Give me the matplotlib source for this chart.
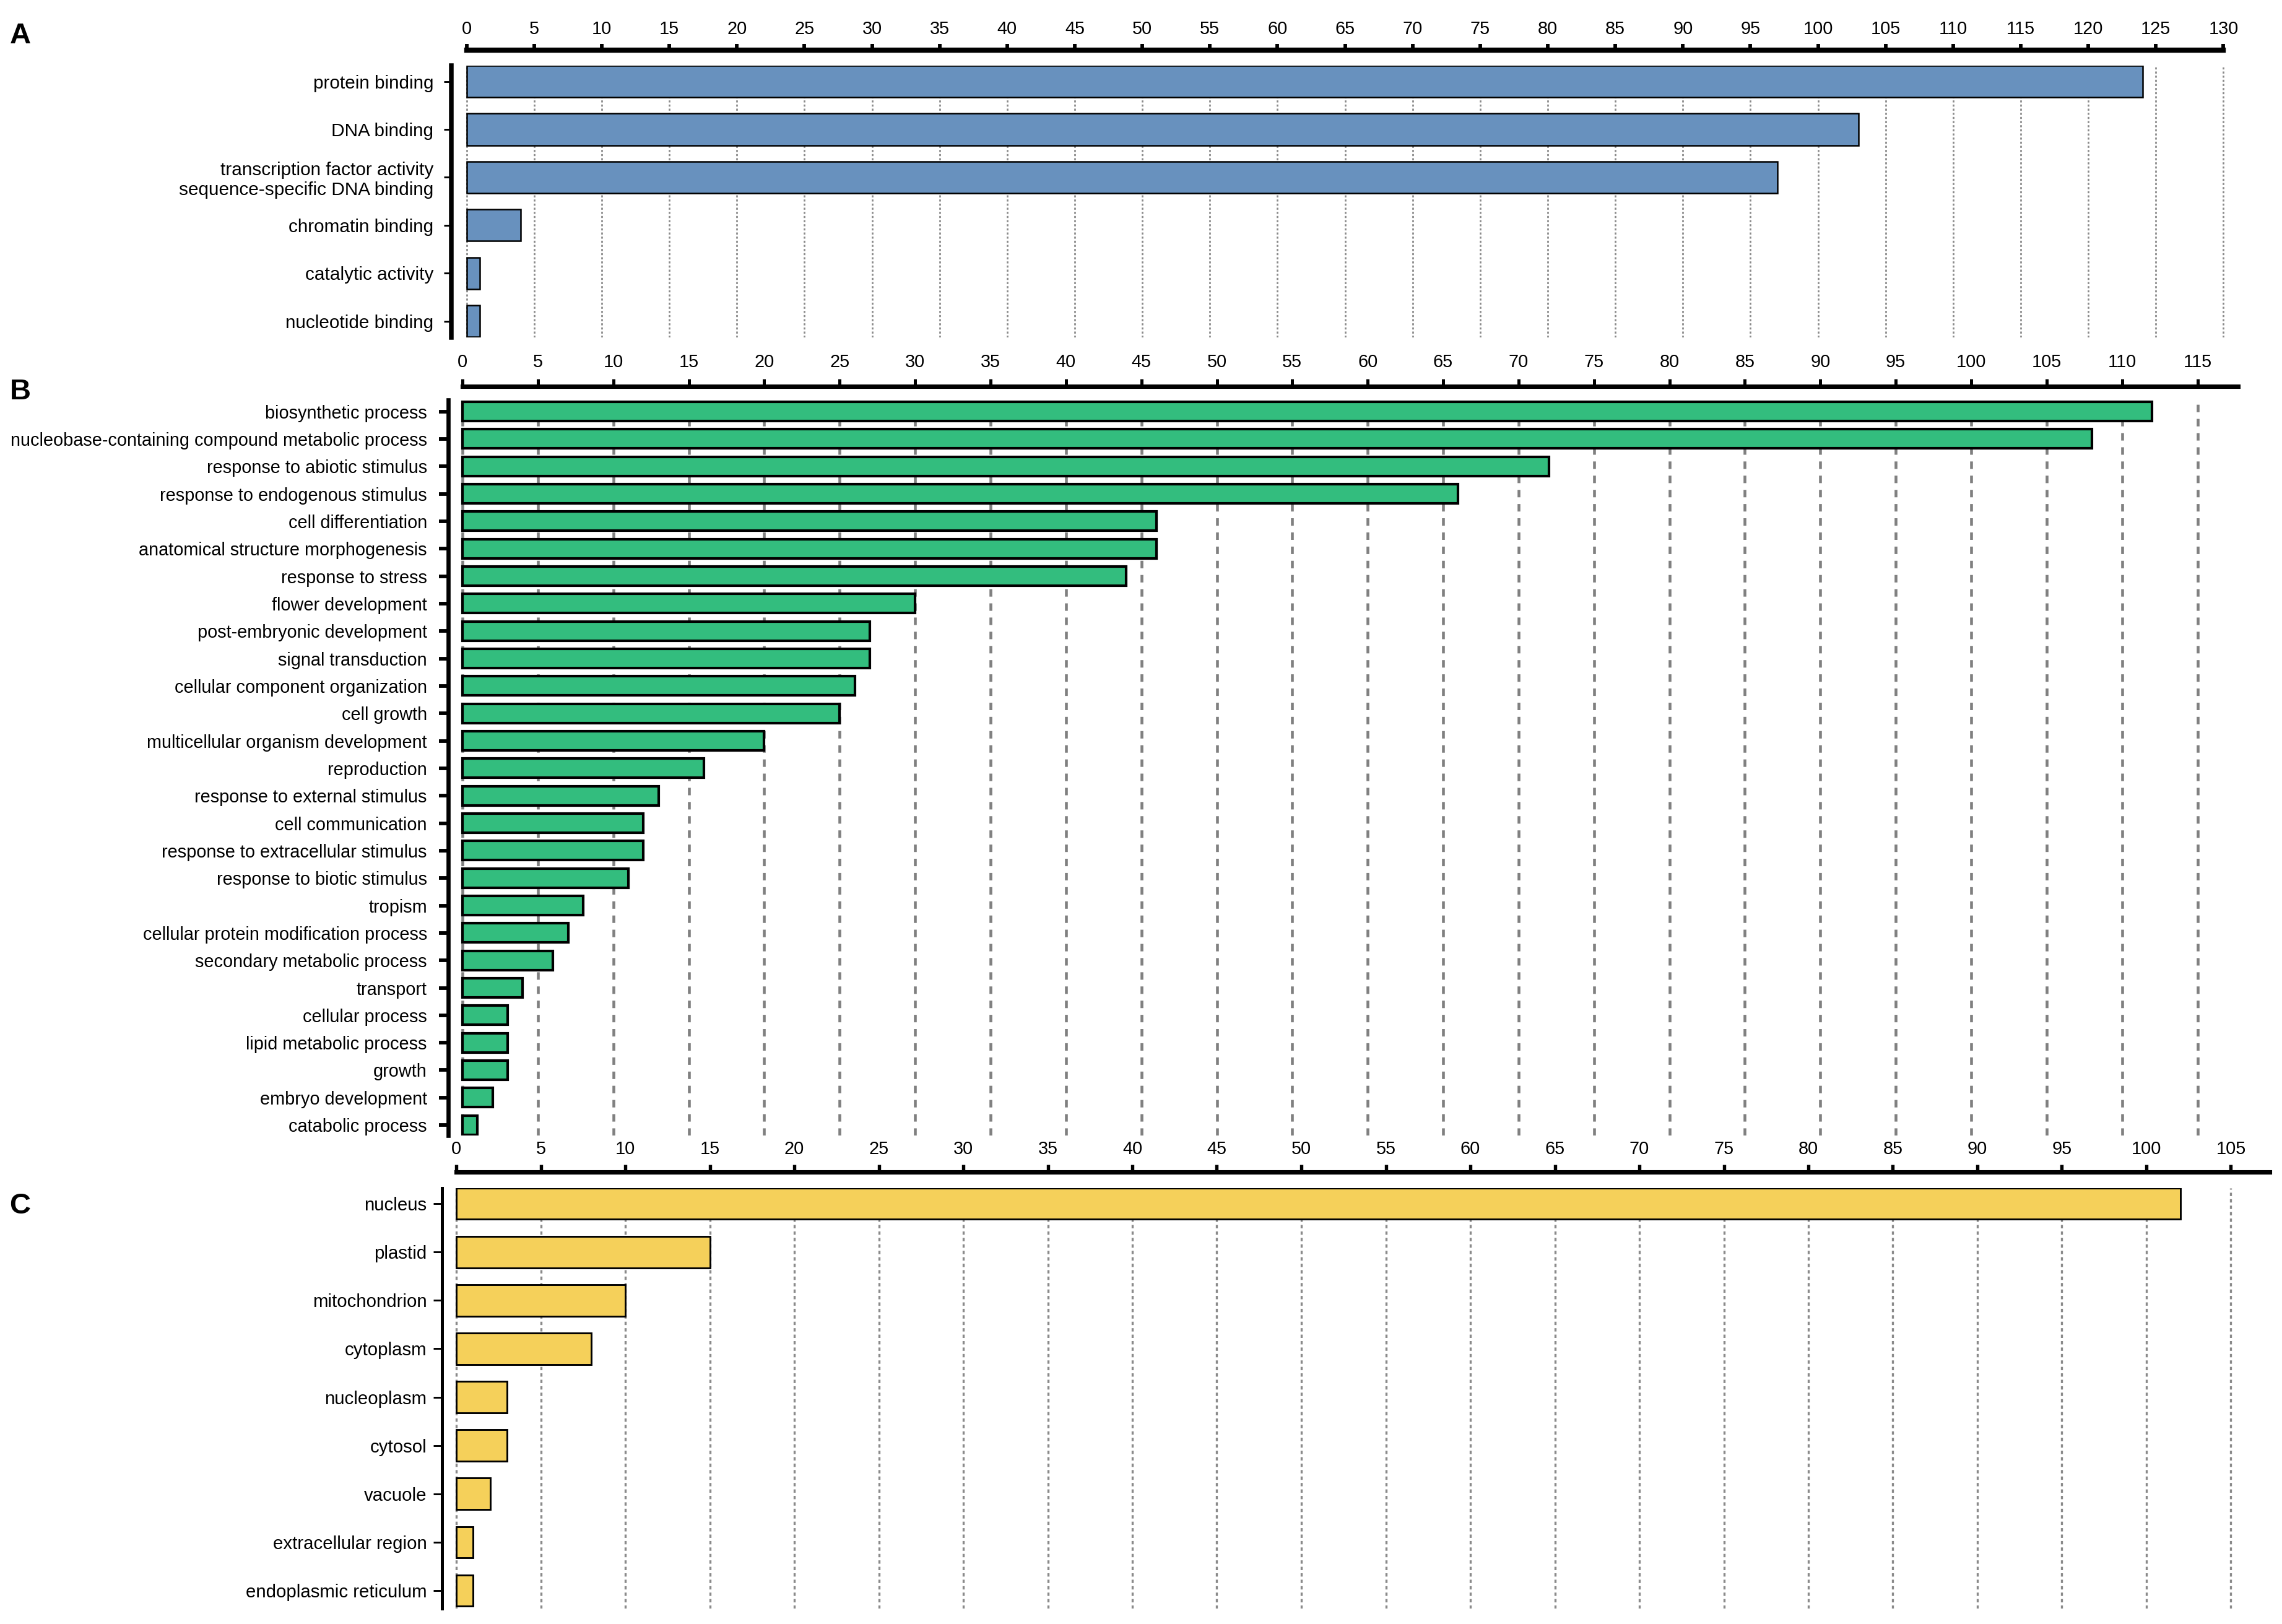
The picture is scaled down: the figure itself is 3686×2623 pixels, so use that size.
import numpy as np
import matplotlib
matplotlib.use("Agg")
import matplotlib.pyplot as plt
from matplotlib import font_manager

_names = {f.name for f in font_manager.fontManager.ttflist}
_fam = [n for n in ['Liberation Sans', 'Arimo', 'Noto Sans', 'DejaVu Sans'] if n in _names]
plt.rcParams['font.family'] = _fam + ['DejaVu Sans']
plt.rcParams['lines.scale_dashes'] = False

# ---------------- data ----------------
mf_labels = ["protein binding", "DNA binding",
             "transcription factor activity\nsequence-specific DNA binding",
             "chromatin binding", "catalytic activity", "nucleotide binding"]
mf_values = [124, 103, 97, 4, 1, 1]
mf_ticks = list(range(0, 131, 5))

bp_labels = ["biosynthetic process",
             "nucleobase-containing compound metabolic process",
             "response to abiotic stimulus", "response to endogenous stimulus",
             "cell differentiation", "anatomical structure morphogenesis",
             "response to stress", "flower development",
             "post-embryonic development", "signal transduction",
             "cellular component organization", "cell growth",
             "multicellular organism development", "reproduction",
             "response to external stimulus", "cell communication",
             "response to extracellular stimulus", "response to biotic stimulus",
             "tropism", "cellular protein modification process",
             "secondary metabolic process", "transport", "cellular process",
             "lipid metabolic process", "growth", "embryo development",
             "catabolic process"]
bp_values = [112, 108, 72, 66, 46, 46, 44, 30, 27, 27, 26, 25, 20, 16, 13,
             12, 12, 11, 8, 7, 6, 4, 3, 3, 3, 2, 1]
bp_ticks = list(range(0, 116, 5))

cc_labels = ["nucleus", "plastid", "mitochondrion", "cytoplasm", "nucleoplasm",
             "cytosol", "vacuole", "extracellular region", "endoplasmic reticulum"]
cc_values = [102, 15, 10, 8, 3, 3, 2, 1, 1]
cc_ticks = list(range(0, 106, 5))

# ---------------- figure ----------------
W, H, DPI = 3686, 2623, 300
fig = plt.figure(figsize=(W / DPI, H / DPI), dpi=DPI)
PT = 72.0 / DPI  # points per pixel
renderer = fig.canvas.get_renderer()


def fit_size(s, target_px, base=7.0, weight='normal'):
    t = fig.text(0, 0, s, fontsize=base, fontweight=weight)
    w = t.get_window_extent(renderer).width
    t.remove()
    return base * target_px / w


tick_fs = fit_size("100", 48)
lab_fs_A = fit_size("sequence-specific DNA binding", 412)
lab_fs_B = fit_size("nucleobase-containing compound metabolic process", 672)
lab_fs_C = fit_size("endoplasmic reticulum", 293)
letter_fs = fit_size("A", 34, weight='bold')


def make_panel(labels, values, ticks, color, x0px, ppu, xlim, spine_end,
               ytop, ybot, ylim, spine_left_px, spine_top_px,
               bar_h, bar_lw, grid_kw, top_spine_lw, left_spine_lw,
               xtick_len, xtick_w, ytick_len, ytick_w, ytick_pad, xtick_pad,
               label_fs):
    left = x0px + xlim[0] * ppu
    right = x0px + xlim[1] * ppu
    ax = fig.add_axes([left / W, 1 - ybot / H, (right - left) / W, (ybot - ytop) / H])
    y = np.arange(len(values))
    ax.barh(y, values, height=bar_h, color=color, edgecolor='black',
            linewidth=bar_lw, zorder=3)
    ax.set_xlim(*xlim)
    ax.set_ylim(*ylim)
    ax.xaxis.tick_top()
    ax.tick_params(axis='x', direction='out', length=xtick_len, width=xtick_w,
                   pad=xtick_pad, colors='black', labelsize=tick_fs)
    ax.tick_params(axis='y', direction='out', length=ytick_len, width=ytick_w,
                   pad=ytick_pad, colors='black', labelsize=label_fs)
    ax.set_yticks(y)
    ax.set_yticklabels(labels, fontsize=label_fs)
    ax.set_xticks(ticks)
    ax.set_xticklabels([str(t) for t in ticks], fontsize=tick_fs)
    ax.set_axisbelow(True)
    ax.grid(axis='x', zorder=0, **grid_kw)
    ax.grid(axis='y', visible=False)
    for s in ('right', 'bottom'):
        ax.spines[s].set_visible(False)
    ax.spines['left'].set_position(('outward', (left - spine_left_px) * PT))
    ax.spines['top'].set_position(('outward', (ytop - spine_top_px) * PT))
    ax.spines['top'].set_bounds(0, spine_end)
    ax.spines['top'].set_linewidth(top_spine_lw)
    ax.spines['left'].set_linewidth(left_spine_lw)
    for lbl in ax.get_yticklabels():
        lbl.set_fontsize(label_fs)
        lbl.set_linespacing(1.15)
    for lbl in ax.get_xticklabels():
        lbl.set_fontsize(tick_fs)
    return ax


# Panel A
axA = make_panel(mf_labels, mf_values, mf_ticks, '#6891BE',
                 x0px=753.6, ppu=21.83, xlim=(-0.35, 130.6), spine_end=130,
                 ytop=106, ybot=545, ylim=(5.34, -0.33),
                 spine_left_px=729, spine_top_px=81,
                 bar_h=0.66, bar_lw=0.6,
                 grid_kw=dict(color='#8a8a8a', linewidth=0.65, linestyle=(0, (0.8, 0.8))),
                 top_spine_lw=2.0, left_spine_lw=1.8,
                 xtick_len=2.4, xtick_w=1.4, ytick_len=2.9, ytick_w=0.7,
                 ytick_pad=4.0, xtick_pad=2.4, label_fs=lab_fs_A)

# Panel B
axB = make_panel(bp_labels, bp_values, bp_ticks, '#33BD7E',
                 x0px=747, ppu=24.37, xlim=(-0.35, 118.0), spine_end=117.7,
                 ytop=646, ybot=1834, ylim=(26.38, -0.42),
                 spine_left_px=724, spine_top_px=624,
                 bar_h=0.70, bar_lw=1.0,
                 grid_kw=dict(color='#808080', linewidth=1.1, linestyle=(0, (2.9, 2.6))),
                 top_spine_lw=1.7, left_spine_lw=1.6,
                 xtick_len=2.9, xtick_w=1.2, ytick_len=3.6, ytick_w=1.4,
                 ytick_pad=4.6, xtick_pad=3.0, label_fs=lab_fs_B)

# Panel C
axC = make_panel(cc_labels, cc_values, cc_ticks, '#F5D05A',
                 x0px=737, ppu=27.3, xlim=(-0.35, 107.5), spine_end=107.3,
                 ytop=1919, ybot=2598, ylim=(8.37, -0.32),
                 spine_left_px=714, spine_top_px=1893,
                 bar_h=0.65, bar_lw=0.7,
                 grid_kw=dict(color='#8a8a8a', linewidth=0.8, linestyle=(0, (1.3, 1.2))),
                 top_spine_lw=1.7, left_spine_lw=1.2,
                 xtick_len=2.9, xtick_w=1.3, ytick_len=3.3, ytick_w=0.7,
                 ytick_pad=2.6, xtick_pad=2.5, label_fs=lab_fs_C)

# Panel letters
for letter, (px, py) in zip(["A", "B", "C"], [(33, 58), (33, 633), (32, 1948)]):
    fig.text(px / W, 1 - py / H, letter, fontsize=letter_fs, fontweight='bold',
             ha='center', va='center')

fig.savefig("out.png", dpi=DPI, facecolor='white')
